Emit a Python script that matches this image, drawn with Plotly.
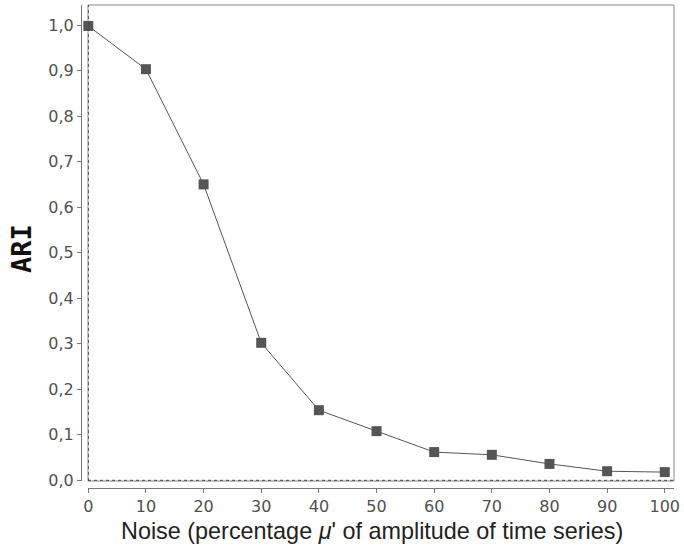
import plotly.graph_objects as go

noise = [0, 10, 20, 30, 40, 50, 60, 70, 80, 90, 100]
ari = [0.998, 0.903, 0.650, 0.302, 0.154, 0.108, 0.062, 0.056, 0.036, 0.020, 0.018]
x_ticks = [0, 10, 20, 30, 40, 50, 60, 70, 80, 90, 100]
y_ticks = [0.0, 0.1, 0.2, 0.3, 0.4, 0.5, 0.6, 0.7, 0.8, 0.9, 1.0]

W, H = 684, 547
ML, MR, MT, MB = 81, 10, 5, 59
pw = W - ML - MR
ph = H - MT - MB
gap = 7

fig = go.Figure()
fig.add_trace(go.Scatter(
    x=noise, y=ari, mode="lines+markers",
    line=dict(color="#555555", width=1),
    marker=dict(symbol="square", size=10, color="#555555"),
    showlegend=False, cliponaxis=False,
))

axis_font = dict(family="DejaVu Sans", size=16, color="#505050")

fig.update_layout(
    width=W, height=H,
    margin=dict(l=ML, r=MR, t=MT, b=MB),
    paper_bgcolor="white", plot_bgcolor="white",
    separators=",.",
    xaxis=dict(
        domain=[gap / pw, 1], range=[-0.05, 101.6],
        anchor="free", position=0,
        tickvals=x_ticks, ticks="outside", ticklen=4, tickcolor="#777777",
        showline=True, linecolor="#777777", linewidth=1,
        showgrid=False, zeroline=False, tickfont=axis_font,
    ),
    yaxis=dict(
        domain=[gap / ph, 1], range=[-0.0015, 1.044],
        anchor="free", position=0,
        tickvals=y_ticks, tickformat=".1f", ticks="outside", ticklen=4, tickcolor="#777777",
        showline=True, linecolor="#777777", linewidth=1,
        showgrid=False, zeroline=False, tickfont=axis_font,
    ),
    annotations=[
        dict(text="Noise (percentage <i>μ</i>' of amplitude of time series)",
             xref="paper", yref="paper", x=0.5 + gap / pw / 2, y=0,
             xshift=-9, yshift=-43, xanchor="center", yanchor="middle", showarrow=False,
             font=dict(family="Liberation Sans", size=23.4, color="#222222")),
        dict(text="<b>ARI</b>", textangle=-90,
             xref="paper", yref="paper", x=0, y=0.5 + gap / ph / 2,
             xshift=-59, yshift=-6, xanchor="center", yanchor="middle", showarrow=False,
             font=dict(family="DejaVu Sans Mono", size=27, color="#111111")),
    ],
    shapes=[
        dict(type="rect", xref="x domain", yref="y domain", x0=0, x1=1, y0=0, y1=1,
             line=dict(color="#888888", width=1), layer="below"),
        dict(type="line", xref="x", yref="y domain", x0=0, x1=0, y0=0, y1=1,
             line=dict(color="#444444", width=1, dash="dot")),
        dict(type="line", xref="x domain", yref="y", x0=0, x1=1, y0=0, y1=0,
             line=dict(color="#444444", width=1, dash="dot")),
    ],
)

fig.write_html("out.html")
